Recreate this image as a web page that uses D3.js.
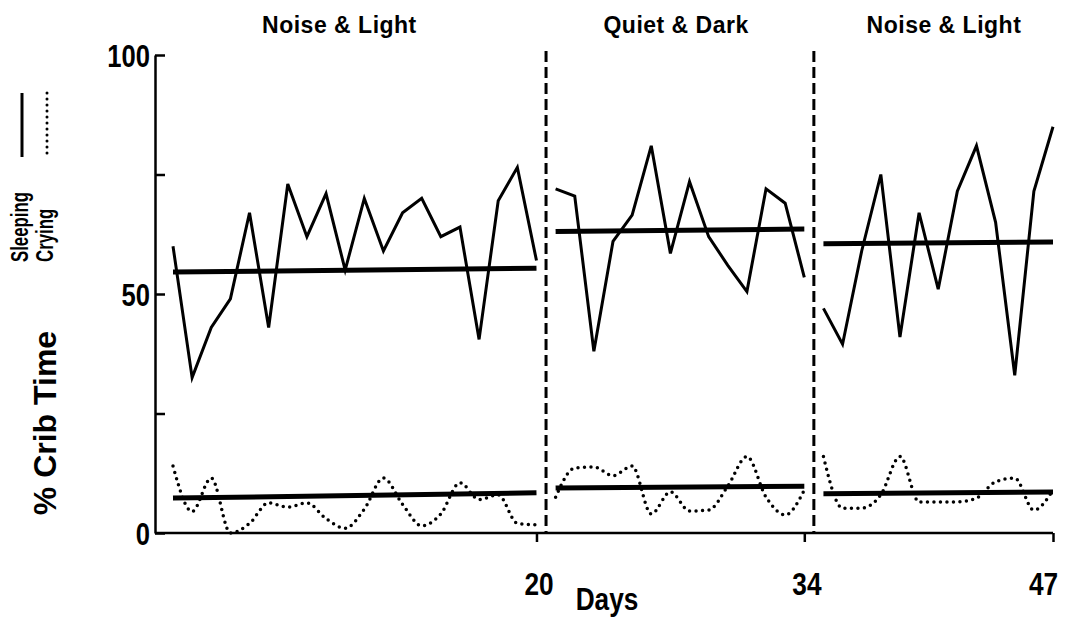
<!DOCTYPE html>
<html>
<head>
<meta charset="utf-8">
<script src="https://cdn.jsdelivr.net/npm/d3@7"></script>
<style>
  body { margin: 0; background: #fff; }
  text { font-family: "Liberation Sans", Arial, sans-serif; font-weight: bold; fill: #000; }
  .cond { transform-box: fill-box; transform-origin: 50% 50%; transform: scaleX(0.82); }
  .cond-r { transform-box: fill-box; transform-origin: 100% 50%; transform: scaleX(0.8); }
</style>
</head>
<body>
<svg id="chart" width="1067" height="620"></svg>
<script>
// phases of the study
const phaseNames = ["Noise & Light", "Quiet & Dark", "Noise & Light"];
const phaseStart = [1, 21, 35];
const phaseEnd = [20, 34, 47];
const phaseLabelDay = [9.7, 27.3, 41.3];
const dividers = [20.5, 34.5];

// % crib time sleeping, one value per day
const sleeping1 = [60, 32.5, 43, 49, 67, 43, 73, 62, 71, 55, 70, 59, 67, 70, 62, 64, 40.5, 69.5, 76.5, 57];
const sleeping2 = [72, 70.5, 38, 61, 66.5, 81, 58.5, 73.5, 62, 56, 50.5, 72, 69, 53.5];
const sleeping3 = [47, 39.5, 59, 75, 41, 67, 51, 71.5, 81, 65, 33, 71.5, 85];

// % crib time crying
const crying1 = [14, 4.5, 11.5, 0, 2, 6.3, 5.4, 6.3, 3, 1, 5, 11.5, 6, 1.5, 4, 10.5, 7, 8, 2, 1.7];
const crying2 = [7.5, 13.6, 13.8, 12, 14, 4, 8.6, 4.6, 4.8, 9.8, 16, 7.5, 3.8, 9];
const crying3 = [16, 5.2, 5.2, 8, 16, 6.5, 6.5, 6.5, 7.3, 10.7, 11.5, 4.8, 9];

// fitted level lines per phase [start, end]
const sleepMean = [[54.6, 55.4], [63.1, 63.6], [60.5, 60.9]];
const cryMean = [[7.3, 8.4], [9.4, 9.8], [8.2, 8.6]];

const yTicks = [0, 25, 50, 75, 100];
const yLabels = [0, 50, 100];
const xTicks = [20, 34, 47];

const svg = d3.select("#chart");

const x = d3.scaleLinear().domain([1, 47]).range([173, 1053]);
const y = d3.scaleLinear().domain([0, 100]).range([533, 55]);
const axisX0 = 155;

const sleepSeries = [sleeping1, sleeping2, sleeping3];
const crySeries = [crying1, crying2, crying3];

const line = d3.line()
  .x(d => x(d.day))
  .y(d => y(d.v));

const smooth = d3.line()
  .x(d => x(d.day))
  .y(d => y(d.v))
  .curve(d3.curveMonotoneX);

// y axis
const yAxis = d3.axisLeft(y)
  .tickValues(yTicks)
  .tickSizeInner(-10)
  .tickSizeOuter(0)
  .tickPadding(5)
  .tickFormat(d => yLabels.includes(d) ? d : "");

const gy = svg.append("g")
  .attr("transform", `translate(${axisX0},0)`)
  .call(yAxis);
gy.select(".domain").attr("stroke-width", 2.5);
gy.selectAll(".tick line").attr("stroke-width", 2.5);
gy.selectAll(".tick text")
  .attr("class", "cond-r")
  .style("font-size", "32px")
  .style("font-family", "'Liberation Sans', sans-serif")
  .style("font-weight", "bold")
  .attr("dy", "0.36em");

// x axis
const xAxis = d3.axisBottom(x)
  .tickValues(xTicks)
  .tickSizeInner(9)
  .tickSizeOuter(0)
  .tickPadding(30);

const gx = svg.append("g")
  .attr("transform", `translate(0,${y(0)})`)
  .call(xAxis);
gx.select(".domain").remove();
gx.append("line")
  .attr("x1", axisX0).attr("x2", x(47))
  .attr("stroke", "#000").attr("stroke-width", 2.5);
gx.selectAll(".tick line").attr("stroke-width", 2.5);
gx.selectAll(".tick text")
  .attr("class", "cond")
  .attr("dx", d => d === 47 ? -10 : 2)
  .style("font-size", "32px")
  .style("font-family", "'Liberation Sans', sans-serif")
  .style("font-weight", "bold");

// phase dividers
svg.selectAll(".divider")
  .data(dividers)
  .enter().append("line")
  .attr("class", "divider")
  .attr("x1", d => x(d)).attr("x2", d => x(d))
  .attr("y1", y(100) - 4).attr("y2", y(0))
  .attr("stroke", "#000")
  .attr("stroke-width", 3)
  .attr("stroke-dasharray", "11 5");

// phase labels
svg.selectAll(".phase")
  .data(phaseNames)
  .enter().append("text")
  .attr("class", "phase")
  .attr("x", (d, i) => x(phaseLabelDay[i]))
  .attr("y", 33)
  .attr("text-anchor", "middle")
  .style("font-size", "23px")
  .style("letter-spacing", "0.5px")
  .text(d => d);

// sleeping lines
sleepSeries.forEach((s, i) => {
  const pts = s.map((v, j) => ({ day: phaseStart[i] + j, v }));
  svg.append("path")
    .attr("d", line(pts))
    .attr("fill", "none")
    .attr("stroke", "#000")
    .attr("stroke-width", 3)
    .attr("stroke-linejoin", "miter");
});

// crying dotted lines
crySeries.forEach((s, i) => {
  const pts = s.map((v, j) => ({ day: phaseStart[i] + j, v }));
  svg.append("path")
    .attr("d", smooth(pts))
    .attr("fill", "none")
    .attr("stroke", "#000")
    .attr("stroke-width", 3.5)
    .attr("stroke-linecap", "round")
    .attr("stroke-dasharray", "0 6.5");
});

// level lines
[sleepMean, cryMean].forEach(means => {
  means.forEach((m, i) => {
    svg.append("line")
      .attr("x1", x(phaseStart[i])).attr("x2", x(phaseEnd[i]))
      .attr("y1", y(m[0])).attr("y2", y(m[1]))
      .attr("stroke", "#000")
      .attr("stroke-width", 5);
  });
});

// axis titles
svg.append("text")
  .attr("transform", "translate(56,423) rotate(-90)")
  .attr("text-anchor", "middle")
  .style("font-size", "32px")
  .text("% Crib Time");

svg.append("text")
  .attr("class", "cond")
  .attr("x", 607).attr("y", 610)
  .attr("text-anchor", "middle")
  .style("font-size", "32px")
  .text("Days");

// legend
svg.append("text")
  .attr("transform", "translate(28,262) rotate(-90) scale(0.7,1)")
  .style("font-size", "24px")
  .text("Sleeping");
svg.append("text")
  .attr("transform", "translate(53,262) rotate(-90) scale(0.7,1)")
  .style("font-size", "24px")
  .text("Crying");
svg.append("line")
  .attr("x1", 22).attr("x2", 22).attr("y1", 93).attr("y2", 157)
  .attr("stroke", "#000").attr("stroke-width", 3);
svg.append("line")
  .attr("x1", 47).attr("x2", 47).attr("y1", 93).attr("y2", 157)
  .attr("stroke", "#000").attr("stroke-width", 3)
  .attr("stroke-linecap", "round")
  .attr("stroke-dasharray", "0 6");
</script>
</body>
</html>
